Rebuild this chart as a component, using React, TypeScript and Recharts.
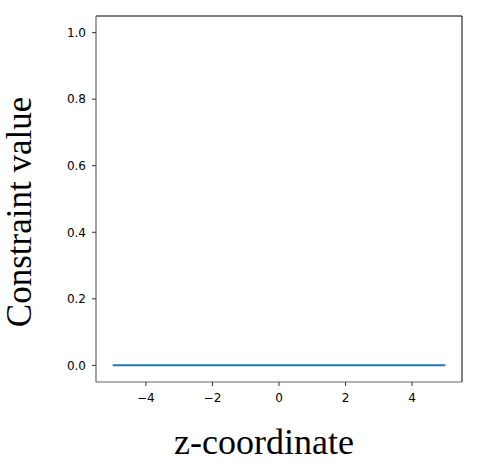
import { LineChart, Line, XAxis, YAxis, ReferenceLine } from 'recharts';

const zCoords = [-5, -4, -3, -2, -1, 0, 1, 2, 3, 4, 5];
const constraintValues = [0, 0, 0, 0, 0, 0, 0, 0, 0, 0, 0];
const xTicks = [-4, -2, 0, 2, 4];
const yTicks = [0, 0.2, 0.4, 0.6, 0.8, 1.0];

const data = zCoords.map((z, i) => ({ z, value: constraintValues[i] }));

const tickStyle = { fill: '#000', fontSize: 12, fontFamily: 'DejaVu Sans' };
const fmtX = (v: number) => (v < 0 ? `\u2212${Math.abs(v)}` : `${v}`);

export default function App() {
  return (
    <div style={{ position: 'absolute', top: 0, left: 0, width: 482, height: 470, background: '#fff' }}>
      <LineChart width={482} height={470} data={data} margin={{ top: 16, right: 20, left: 46, bottom: 58 }}>
        <XAxis
          dataKey="z"
          type="number"
          domain={[-5.5, 5.5]}
          ticks={xTicks}
          allowDataOverflow
          tickFormatter={fmtX}
          tick={tickStyle}
          axisLine={{ stroke: '#666', strokeWidth: 1.2 }}
          tickLine={{ stroke: '#333' }}
          tickSize={4}
          tickMargin={7}
          height={30}
        />
        <YAxis
          type="number"
          domain={[-0.05, 1.05]}
          ticks={yTicks}
          allowDataOverflow
          tickFormatter={(v: number) => v.toFixed(1)}
          tick={tickStyle}
          axisLine={{ stroke: '#666', strokeWidth: 1.2 }}
          tickLine={{ stroke: '#333' }}
          tickSize={4}
          tickMargin={6}
          width={50}
        />
        <ReferenceLine y={1.05} stroke="#000" strokeWidth={1} />
        <ReferenceLine x={5.5} stroke="#000" strokeWidth={1} />
        <Line
          dataKey="value"
          stroke="#1f77b4"
          strokeWidth={2}
          dot={false}
          isAnimationActive={false}
        />
      </LineChart>
      <div
        style={{
          position: 'absolute',
          left: 264,
          top: 442,
          transform: 'translate(-50%, -50%)',
          fontFamily: '"Liberation Serif", serif',
          fontSize: 36,
          whiteSpace: 'nowrap',
        }}
      >
        z-coordinate
      </div>
      <div
        style={{
          position: 'absolute',
          left: 20,
          top: 212,
          transform: 'translate(-50%, -50%) rotate(-90deg)',
          fontFamily: '"Liberation Serif", serif',
          fontSize: 35,
          whiteSpace: 'nowrap',
        }}
      >
        Constraint value
      </div>
    </div>
  );
}
